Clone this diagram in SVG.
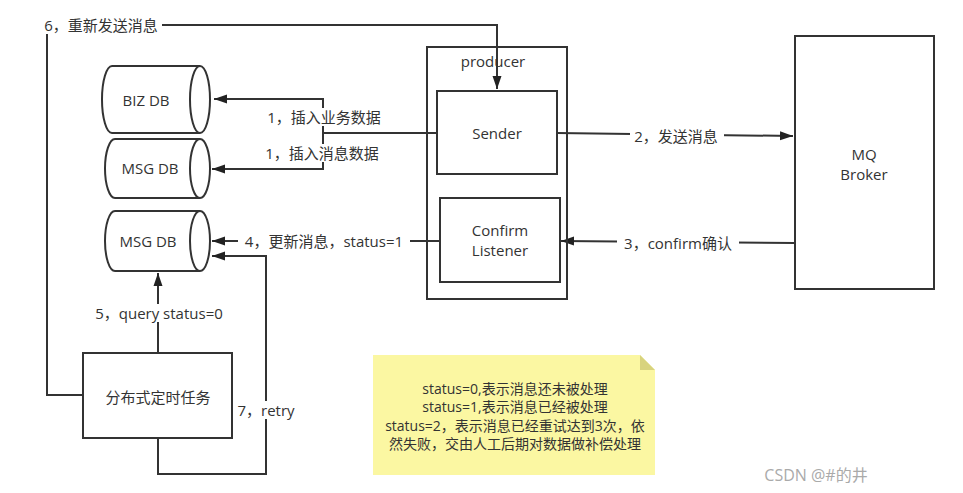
<svg xmlns="http://www.w3.org/2000/svg" width="963" height="493" viewBox="0 0 963 493">
<style>
text{font-family:"Open Sans","Noto Sans CJK SC",sans-serif;font-size:15px;fill:#333;text-anchor:middle;dominant-baseline:central}
.box{fill:#fff;stroke:#333;stroke-width:2}
.edge{fill:none;stroke:#333;stroke-width:2}
.lbl{fill:#fff;stroke:none}
.note{font-size:14px}
</style>
<defs>
<marker id="arr" markerUnits="userSpaceOnUse" markerWidth="14" markerHeight="10" refX="13" refY="5" orient="auto">
<path d="M0,0.5 L13,5 L0,9.5 z" fill="#222"/>
</marker>
</defs>
<rect width="963" height="493" fill="#fff"/>

<g id="connectors">
<polyline class="edge" points="83,395 47,395 47,25 497,25 497,89" marker-end="url(#arr)"/>
<polyline class="edge" points="437,133 323,133 323,99 214,99" marker-end="url(#arr)"/>
<polyline class="edge" points="323,133 323,169 212,169" marker-end="url(#arr)"/>
<polyline class="edge" points="557,133 793,136" marker-end="url(#arr)"/>
<polyline class="edge" points="795,243 561,241" marker-end="url(#arr)"/>
<polyline class="edge" points="440,241 212,241" marker-end="url(#arr)"/>
<polyline class="edge" points="158,353 158,273" marker-end="url(#arr)"/>
<polyline class="edge" points="158,438 158,474 266,474 266,256 212,256" marker-end="url(#arr)"/>

<rect class="lbl" x="40" y="16" width="122" height="18"/>
<text x="101" y="25">6，重新发送消息</text>
<rect class="lbl" x="262" y="108" width="124" height="18"/>
<text x="324" y="117">1，插入业务数据</text>
<rect class="lbl" x="260" y="144" width="124" height="18"/>
<text x="322" y="153">1，插入消息数据</text>
<rect class="lbl" x="630" y="128" width="94" height="18"/>
<text x="676" y="136">2，发送消息</text>
<rect class="lbl" x="617" y="234" width="122" height="18"/>
<text x="678" y="243">3，confirm确认</text>
<rect class="lbl" x="238" y="232" width="172" height="18"/>
<text x="324" y="241">4，更新消息，status=1</text>
<rect class="lbl" x="88" y="304" width="142" height="18"/>
<text x="159" y="313">5，query status=0</text>
<rect class="lbl" x="236" y="401" width="62" height="18"/>
<text x="266" y="410">7，retry</text>
</g>

<g id="biz-db">
<path class="box" d="M112,66 L200,66 A10,33.5 0 0 1 200,133 L112,133 A10,33.5 0 0 1 112,66 Z"/>
<path class="edge" d="M200,66 A10,33.5 0 0 0 200,133"/>
<text x="146" y="100">BIZ DB</text>
</g>

<g id="msg-db-1">
<path class="box" d="M115,139 L200,139 A10,29.5 0 0 1 200,198 L115,198 A10,29.5 0 0 1 115,139 Z"/>
<path class="edge" d="M200,139 A10,29.5 0 0 0 200,198"/>
<text x="150" y="168">MSG DB</text>
</g>

<g id="msg-db-2">
<path class="box" d="M115,211 L200,211 A10,30 0 0 1 200,271 L115,271 A10,30 0 0 1 115,211 Z"/>
<path class="edge" d="M200,211 A10,30 0 0 0 200,271"/>
<text x="148" y="241">MSG DB</text>
</g>

<g id="producer">
<rect class="box" x="427" y="47" width="140" height="252" style="fill:none"/>
<text x="493" y="61">producer</text>
</g>

<g id="sender">
<rect class="box" x="437" y="91" width="120" height="83"/>
<text x="497" y="133">Sender</text>
</g>

<g id="confirm-listener">
<rect class="box" x="440" y="198" width="120" height="84"/>
<text x="500" y="230">Confirm</text>
<text x="500" y="250">Listener</text>
</g>

<g id="mq-broker">
<rect class="box" x="795" y="36" width="139" height="253"/>
<text x="864" y="154">MQ</text>
<text x="864" y="174">Broker</text>
</g>

<g id="scheduler">
<rect class="box" x="83" y="353" width="149" height="85"/>
<text x="158" y="397">分布式定时任务</text>
</g>

<g id="note">
<path d="M373,355 L640,355 L655,370 L655,475 L373,475 Z" fill="#fbf7a2"/>
<path d="M640,355 L655,370 L640,370 Z" fill="#d8d37e"/>
<text class="note" x="515" y="388">status=0,表示消息还未被处理</text>
<text class="note" x="515" y="406">status=1,表示消息已经被处理</text>
<text class="note" x="515" y="425">status=2，表示消息已经重试达到3次，依</text>
<text class="note" x="515" y="443">然失败，交由人工后期对数据做补偿处理</text>
</g>

<text x="816" y="475" style="fill:#aaa;font-size:16px">CSDN @#的井</text>
</svg>
